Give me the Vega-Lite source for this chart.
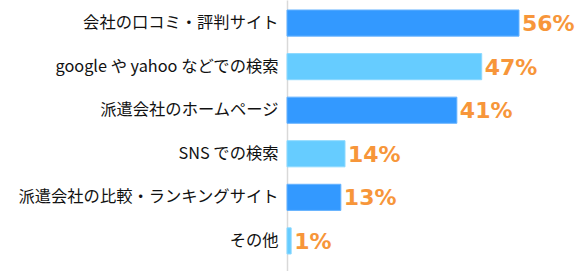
{
  "$schema": "https://vega.github.io/schema/vega-lite/v6.json",
  "width": 290,
  "height": 271,
  "autosize": {"type": "none"},
  "padding": {"left": 287, "top": 0, "right": 0, "bottom": 0},
  "background": "white",
  "config": {"view": {"stroke": null}},
  "data": {"values": [
    {"item": "会社の口コミ・評判サイト", "pct": 0.56, "grp": "a"},
    {"item": "google や yahoo などでの検索", "pct": 0.47, "grp": "b"},
    {"item": "派遣会社のホームページ", "pct": 0.41, "grp": "a"},
    {"item": "SNS での検索", "pct": 0.14, "grp": "b"},
    {"item": "派遣会社の比較・ランキングサイト", "pct": 0.13, "grp": "a"},
    {"item": "その他", "pct": 0.01, "grp": "b"}
  ]},
  "encoding": {
    "y": {
      "field": "item", "type": "nominal", "sort": null,
      "scale": {"paddingInner": 0.4, "paddingOuter": 0.31, "align": 0.37},
      "axis": {"title": null, "ticks": false, "domainColor": "#d9d9d9", "domainWidth": 1.5,
               "labelFont": "Noto Sans CJK JP", "labelFontSize": 16.3, "labelColor": "#111",
               "labelPadding": 9, "labelLimit": 300}
    },
    "x": {"field": "pct", "type": "quantitative", "scale": {"domain": [0, 0.7]}, "axis": null}
  },
  "layer": [
    {
      "mark": {"type": "bar", "strokeWidth": 1},
      "encoding": {
        "color": {"field": "grp", "type": "nominal", "legend": null,
                  "scale": {"domain": ["a", "b"], "range": ["#3399ff", "#66ccff"]}},
        "stroke": {"field": "grp", "type": "nominal", "legend": null,
                  "scale": {"domain": ["a", "b"], "range": ["#66b3ff", "#8cd9ff"]}}
      }
    },
    {
      "mark": {"type": "text", "align": "left", "baseline": "middle", "dx": 3, "dy": 1,
               "font": "DejaVu Sans", "fontWeight": "bold", "fontSize": 22, "color": "#f7963a"},
      "encoding": {"text": {"field": "pct", "type": "quantitative", "format": ".0%"}}
    }
  ]
}
